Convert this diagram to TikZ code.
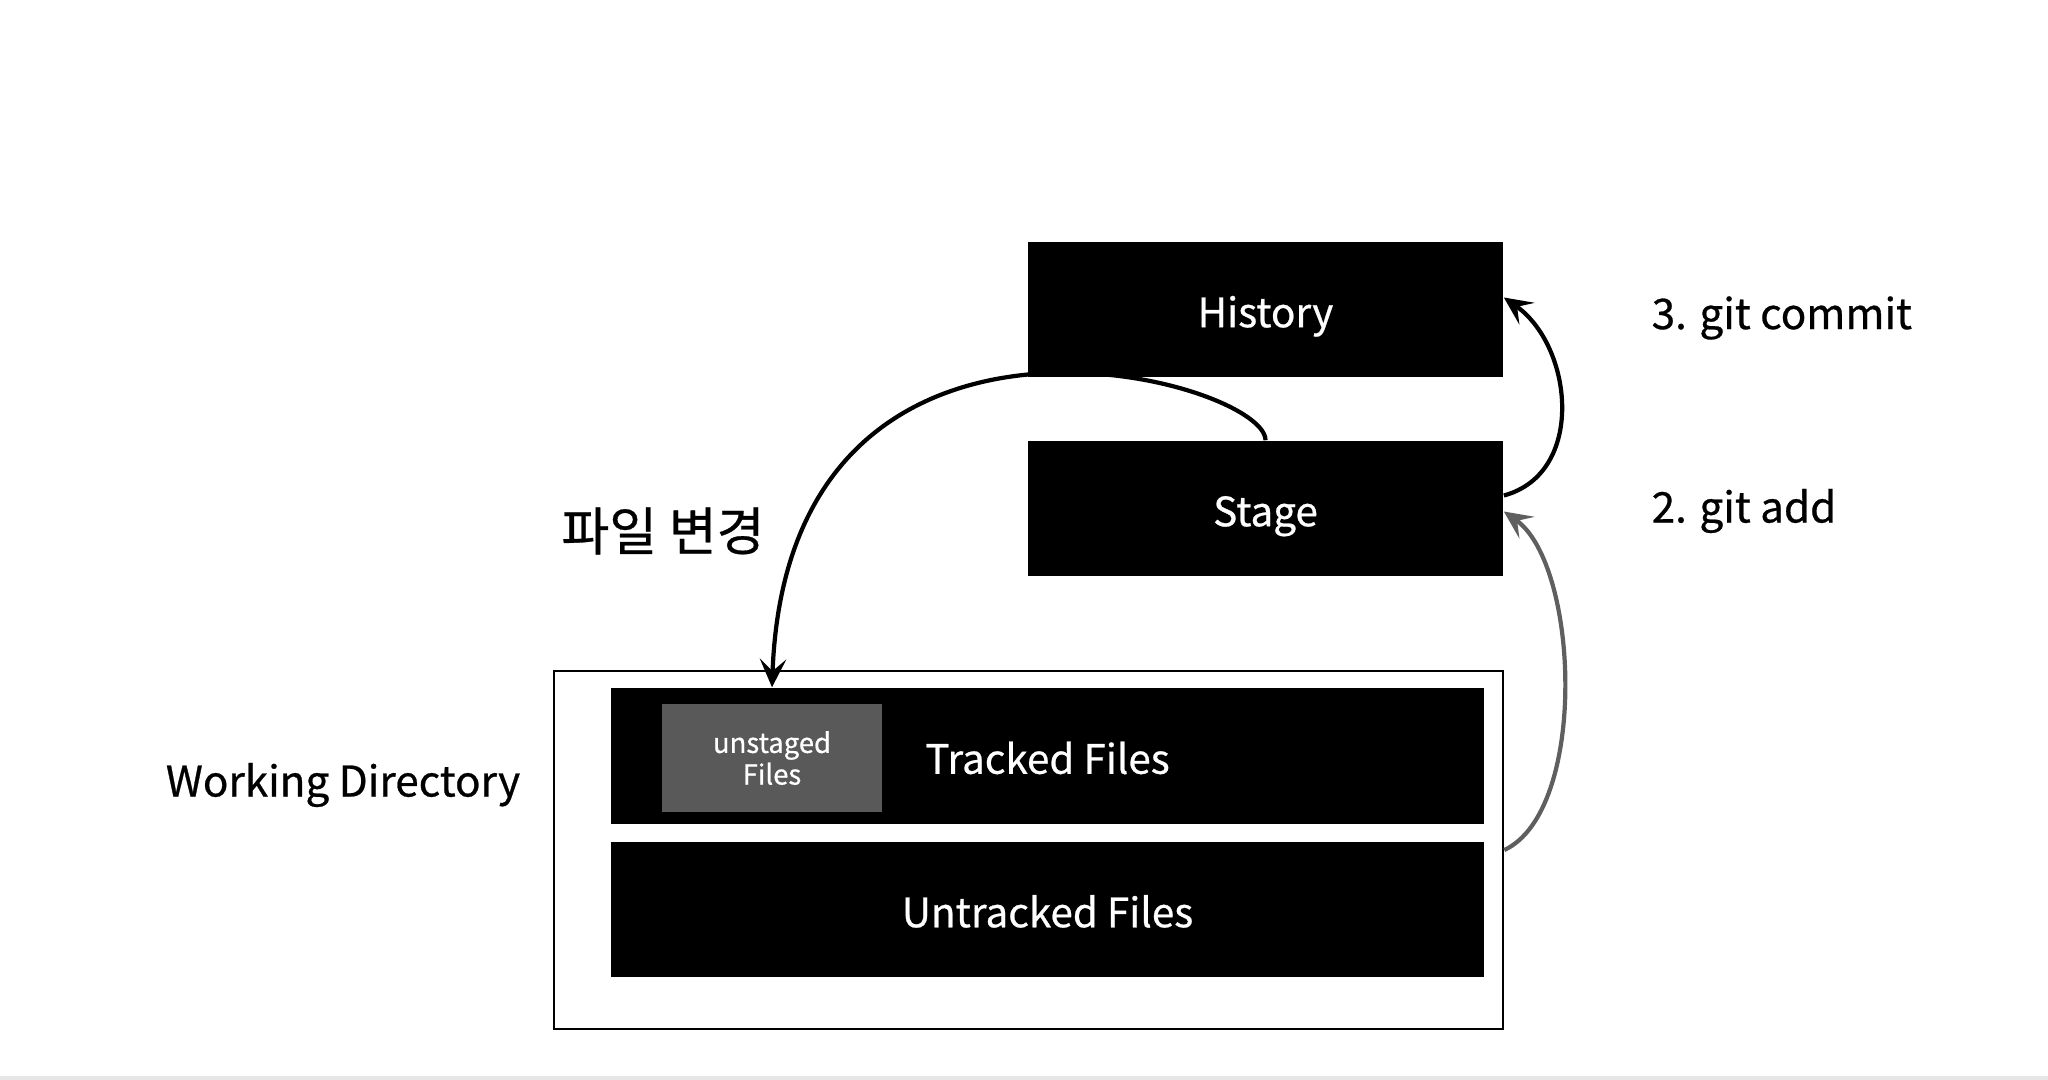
\documentclass[tikz,border=0pt]{standalone}
\usepackage{fontspec}
\setmainfont{Noto Sans CJK KR}[FakeBold=0.6]
\usepackage{tikz}
\usetikzlibrary{arrows.meta, positioning, calc}
\definecolor{Slate}{HTML}{595959}
\definecolor{ArrowGray}{HTML}{5F5F5F}
\definecolor{RuleGray}{HTML}{E6E6E6}
\tikzset{
    areabox/.style={rectangle, fill=black, text=white, inner sep=0pt,
                    text height=12.6pt, text depth=2.5pt,
                    font=\fontsize{11.5}{13}\selectfont},
    plainlabel/.style={font=\fontsize{12}{14}\selectfont, inner sep=0pt},
    flow/.style={line width=1.2pt, -{Stealth[length=8pt, width=7.5pt, inset=3.4pt]}}
}

\begin{document}
\begin{tikzpicture}[x=0.01cm, y=-0.01cm]
    \useasboundingbox (0,0) rectangle (2048,1080);
    \fill[RuleGray] (0,1076) rectangle (2048,1080);

    % Repository areas
    \node[areabox, minimum width=4.75cm, minimum height=1.35cm] (history) at (1265.5,309.5) {History};
    \node[areabox, minimum width=4.75cm, minimum height=1.35cm] (stage) at (1265.5,508.5) {Stage};

    % Working directory
    \node[rectangle, draw=black, line width=0.6pt, minimum width=9.49cm,
          minimum height=3.58cm] (wd) at (1028.5,850) {};
    \node[areabox, minimum width=8.73cm, minimum height=1.36cm] (tracked) at (1047.5,756) {Tracked Files};
    \node[areabox, minimum width=8.73cm, minimum height=1.35cm] (untracked) at (1047.5,909.5) {Untracked Files};
    \node[rectangle, fill=Slate, text=white, inner sep=0pt, align=center,
          minimum width=2.2cm, minimum height=1.08cm,
          font=\fontsize{7.8}{9}\selectfont] (unstaged) at (772,758) {unstaged\\Files};

    % Labels
    \node[plainlabel] (wdlabel) at (343,785) {Working Directory};
    \node[plainlabel, font=\fontsize{14.8}{16}\selectfont] (changelabel) at (663,531) {파일 변경};
    \node[plainlabel, anchor=west] (addlabel) at (1651,511) {2. git add};
    \node[plainlabel, anchor=west] (commitlabel) at (1651,318) {3. git commit};

    % Arrows
    \coordinate (chg) at (unstaged.north |- tracked.north);
    \coordinate (cmout) at ([yshift=0.13cm]stage.east);
    \coordinate (cmin) at ([yshift=0.12cm]history.east);
    \coordinate (addin) at ([yshift=-0.03cm]stage.east);

    \draw[flow] (stage.north) .. controls +(0,-61) and +(16,-438) .. (chg);
    \draw[flow] (cmout) to[out=15, in=-35, looseness=1.1] (cmin);
    \draw[flow, ArrowGray] (wd.east) to[out=25, in=-35, looseness=0.7] (addin);
\end{tikzpicture}
\end{document}
